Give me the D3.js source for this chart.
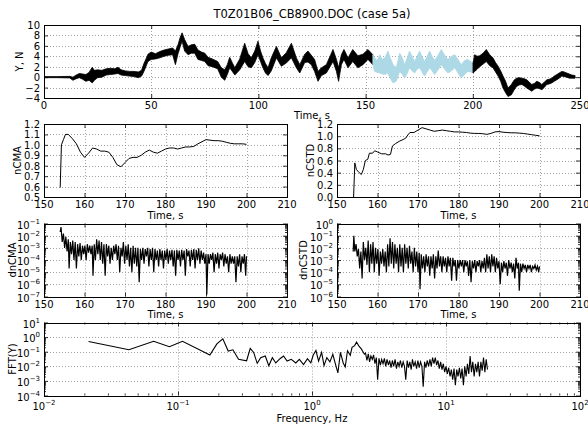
<!DOCTYPE html>
<html><head><meta charset="utf-8">
<script src="https://cdn.jsdelivr.net/npm/d3@7"></script>
<style>
body{margin:0;background:#fff}
text{font-family:"DejaVu Sans","Bitstream Vera Sans",sans-serif;fill:#000}
.grid{stroke:#8a8a8a;stroke-width:0.8;stroke-dasharray:1,2}
.tk line{stroke:#000;stroke-width:0.8}
</style>
</head><body><svg id="c" width="588" height="426" xmlns="http://www.w3.org/2000/svg"></svg>
<script>
// ---------------- DATA ----------------
const title = "T0Z01B06_CB8900.DOC (case 5a)";

// top panel: force Y (N) vs time (s), read as upper / lower envelope of the noisy trace
const yT1  = [0,6,12,13.5,15,16.5,18,19.5,21,22.5,23.5,25,27,29,31,33,34.5,36,38,40,42,44,45.5,46.5,47.7,48.5,50,52,54,56,58,60,61.3,62.5,63.5,64.4,65.6,67.2,68.7,70.3,71.8,73.5,75,76.5,78.5,81,82.7,84.3,85.5,86.6,88,89,91.3,93.6,95.2,96.7,98.3,99.8,101,102.1,103.3,104.5,106,108.4,110.7,113,115.4,117.7,119.3,121.6,123.1,124.7,126.2,127.8,129.4,131.7,134.8,136.4,137.4,138.7,139.9,141.8,144,146.4,148.8,151.1,153.4];
const yHi1 = [0.1,0.1,0.15,0,0.4,0.7,0.6,0.5,0.9,1.9,1.3,1.4,1.3,1.6,1.7,1.6,1.9,1.4,1.2,1.1,1.1,1.0,1.3,2.5,3.6,4.4,4.8,4.5,4.9,5.2,5.4,5.6,5.0,6.2,7.6,8.5,7.2,5.9,6.2,6.3,5.2,4.8,4.6,3.8,3.5,3.0,1.8,1.4,2.4,3.8,2.6,1.8,3.5,6.5,4.5,3.7,5.0,6.9,5.0,3.7,2.6,1.8,3.7,5.9,3.7,4.7,6.5,3.7,2.4,4.4,5.0,4.2,3.4,1.1,1.8,2.4,5.3,3.4,1.8,4.3,5.3,3.7,5.3,4.1,4.4,5.3,4.3];
const yLo1 = [-0.1,-0.1,-0.15,-0.6,-0.3,-0.1,-0.4,-0.8,-0.6,-1.1,-0.6,-0.1,0.0,0.4,0.5,0.6,0.7,0.4,0.3,0.2,0.1,-0.1,0.2,1.0,2.2,3.0,3.4,3.5,3.7,4.0,4.2,4.3,2.4,4.5,5.8,6.9,5.0,4.3,4.6,4.6,3.4,3.2,3.0,2.2,2.0,1.6,0.0,-0.6,0.5,1.8,1.0,0.4,1.4,3.0,2.0,1.8,2.8,4.3,3.0,1.8,0.8,0.3,1.2,3.7,2.1,2.7,3.7,1.8,0.8,2.8,2.9,2.4,1.1,-0.8,0.3,0.8,3.0,1.1,-0.8,2.4,3.4,1.8,3.0,1.8,2.4,3.4,2.4];
// analysed window (light blue)
const yT2  = [153.4,154.2,155.4,156.6,157.8,159,160.4,161.6,162.8,164.3,165.9,167,168.2,169.3,170.5,171.7,172.9,174,175.2,176.3,177.5,178.7,179.9,181,182.2,183.8,185.3,186.9,188.4,190,191.6,193.1,194.6,196.2,197.7,199,200.1];
const yHi2 = [4.3,3.7,3.2,4.3,3.4,3.7,5.0,3.6,2.4,1.8,4.6,3.8,2.4,3.6,5.0,4.0,3.0,4.0,5.0,4.0,3.0,4.0,5.0,4.0,3.2,4.2,5.3,4.2,3.4,4.0,4.3,3.4,2.4,3.2,3.4,3.0,2.7];
const yLo2 = [2.4,1.1,0.9,0.8,0.6,0.5,0.8,-0.3,-1.1,-0.8,1.1,0.6,-0.2,0.6,1.8,1.2,0.8,1.5,1.8,1.0,0.2,1.0,1.8,1.2,0.5,1.4,2.4,1.5,0.8,1.2,1.8,0.8,-0.2,0.5,1.1,1.0,0.8];
const yT3  = [200.1,200.9,202,203.2,204.8,206.3,207.9,209.4,210.6,211.8,213,214.1,215.3,216.4,218,219.2,220.4,221.6,222.9,224,225.2,226.4,227.5,228.7,229.8,231,232.2,233.3,234.5,235.7,236.8,238,239.2,240.3,241.5,242.6,243.8,245,246.2,247.7];
const yHi3 = [2.7,4.3,4.0,4.1,4.6,5.3,4.3,3.7,2.8,2.1,1.2,0.2,-0.8,-2.1,-1.4,-0.6,-0.2,-0.1,-0.2,-0.3,-0.5,-1.0,-1.4,-1.2,-0.8,-1.0,-1.4,-1.0,-0.5,-0.4,-0.2,0.2,0.5,0.8,1.1,1.0,0.8,0.6,0.4,0.3];
const yLo3 = [0.8,1.1,1.5,2.0,2.5,3.0,2.2,1.8,1.0,0.2,-0.8,-2.1,-3.0,-3.7,-3.4,-2.5,-1.8,-1.5,-1.4,-1.7,-2.1,-2.4,-2.7,-2.3,-2.1,-2.2,-2.4,-2.0,-1.4,-1.3,-1.1,-0.8,-0.5,-0.2,0.2,0.1,0.0,-0.2,-0.2,-0.2];

// normalised cumulative mean
const cmaT = [154.0,154.3,154.8,155.3,156,157,158,159,160,161,162,163,164,165,166,167,168,169,170,171,172,173,174,175,176,177,178,179,180,181,182,183,184,185,186,187,188,189,190,191,192,193,194,195,196,197,198,199,200];
const cmaV = [0.59,1.0,1.05,1.10,1.10,1.06,1.01,0.93,0.88,0.92,0.97,0.96,0.94,0.94,0.93,0.88,0.81,0.79,0.83,0.87,0.88,0.88,0.90,0.93,0.95,0.93,0.92,0.94,0.96,0.97,0.97,0.96,0.97,0.98,0.98,0.985,1.01,1.03,1.05,1.045,1.04,1.04,1.035,1.025,1.015,1.01,1.01,1.01,1.005];
// normalised cumulative standard deviation
const cstdT = [154.0,154.1,154.4,154.8,155.5,156,156.5,157,157.6,158,158.8,159.3,160,161,162,162.6,163.2,163.7,164.5,165.5,166.5,167,167.5,168,169,170,171,172,173,174,175,176,177,178,179,180,181,182,183,184,185,186,187,188,189,190,191,192,193,194,195,196,197,198,199,200];
const cstdV = [0.0,0.0,0.56,0.45,0.40,0.37,0.45,0.60,0.62,0.72,0.72,0.76,0.74,0.71,0.71,0.69,0.70,0.84,0.88,0.92,0.95,0.97,1.02,1.06,1.06,1.10,1.14,1.12,1.10,1.08,1.09,1.10,1.09,1.08,1.07,1.07,1.065,1.06,1.05,1.045,1.045,1.04,1.03,1.045,1.07,1.075,1.065,1.06,1.055,1.055,1.05,1.045,1.035,1.025,1.015,1.005];

// relative change of the cumulative mean  [time, value]
const dnCMA = [[154.0,2e-2],[154.2,5e-2],[154.5,3e-3],[154.8,1.5e-2],[155.1,1e-3],[155.4,8e-3],[155.7,5e-4],[156.0,5e-3],[156.2,2e-5],[156.5,3e-3],[156.8,3e-4],[157.1,4e-3],[157.4,1e-4],[157.7,3e-3],[158.0,2e-5],[158.3,2e-3],[158.6,2e-4],[158.9,2.5e-3],[159.2,1e-4],[159.5,1.5e-3],[159.8,3e-4],[160.1,1.5e-3],[160.4,1e-4],[160.7,2e-3],[161.0,4e-4],[161.3,1.5e-3],[161.6,3e-4],[161.9,1.5e-3],[162.1,5e-6],[162.4,2e-3],[162.7,1e-4],[163.0,5e-3],[163.3,3e-4],[163.6,4e-3],[163.9,1e-4],[164.2,3e-3],[164.5,5e-5],[164.8,2e-3],[165.1,5e-6],[165.4,2e-3],[165.7,2e-4],[166.0,1.5e-3],[166.3,5e-5],[166.6,1e-3],[166.9,1e-4],[167.2,1.5e-3],[167.5,3e-4],[167.8,2e-3],[168.1,1e-4],[168.4,1.5e-3],[168.7,1e-5],[169.0,1e-3],[169.3,2e-4],[169.6,3e-3],[169.9,5e-5],[170.2,1.5e-3],[170.5,1e-4],[170.8,2e-3],[171.1,3e-5],[171.4,1e-3],[171.7,1e-5],[172.0,1.5e-3],[172.3,5e-5],[172.6,1e-3],[172.9,3e-5],[173.2,1e-3],[173.5,1.5e-6],[173.8,8e-4],[174.1,1e-4],[174.4,1e-3],[174.7,5e-5],[175.0,8e-4],[175.3,2e-4],[175.6,1e-3],[175.9,3e-5],[176.2,8e-4],[176.5,1e-4],[176.8,1e-3],[177.1,1e-5],[177.4,8e-4],[177.7,1e-4],[178.0,6e-4],[178.3,3e-5],[178.6,8e-4],[178.9,1e-4],[179.2,6e-4],[179.5,2e-5],[179.8,6e-4],[180.1,1e-4],[180.4,8e-4],[180.7,5e-5],[181.0,6e-4],[181.3,1e-4],[181.6,7e-4],[181.9,3e-5],[182.2,6e-4],[182.5,5e-6],[182.8,7e-4],[183.1,1e-4],[183.4,6e-4],[183.7,3e-5],[184.0,7e-4],[184.3,1e-4],[184.6,6e-4],[184.9,5e-6],[185.2,8e-4],[185.5,2e-4],[185.8,6e-4],[186.1,3e-5],[186.4,7e-4],[186.7,1e-4],[187.0,8e-4],[187.3,2e-5],[187.6,7e-4],[187.9,1e-4],[188.2,9e-4],[188.5,5e-5],[188.8,6e-4],[189.1,1e-4],[189.4,4e-4],[189.7,5e-5],[190.0,3e-4],[190.2,1.5e-7],[190.5,3e-4],[190.8,5e-5],[191.1,3e-4],[191.4,1e-4],[191.7,4e-4],[192.0,1e-5],[192.3,3e-4],[192.6,5e-5],[192.9,4e-4],[193.2,2e-5],[193.5,3e-4],[193.8,1e-4],[194.1,4e-4],[194.4,3e-5],[194.7,3e-4],[195.0,5e-5],[195.3,2e-4],[195.6,1e-5],[195.9,3e-4],[196.2,5e-5],[196.5,2e-4],[196.8,5e-5],[197.1,2e-4],[197.4,1.5e-6],[197.7,2e-4],[198.0,3e-5],[198.3,3e-4],[198.6,1e-5],[198.9,2e-4],[199.2,5e-5],[199.5,3e-4],[199.8,5e-6],[200.0,2e-4]];

// relative change of the cumulative standard deviation  [time, value]
const dnCSTD = [[154.0,5e-3],[154.15,1e-1],[154.4,5e-3],[154.7,2e-2],[155.0,2e-3],[155.3,8e-3],[155.6,2e-4],[155.9,5e-3],[156.2,3e-5],[156.5,3e-2],[156.8,1e-3],[157.1,1e-2],[157.4,4e-4],[157.7,4e-2],[158.0,1e-4],[158.3,2e-2],[158.6,5e-4],[158.9,3e-2],[159.2,1e-4],[159.5,1e-2],[159.8,5e-4],[160.1,8e-3],[160.4,5e-5],[160.7,5e-3],[161.0,5e-4],[161.3,8e-3],[161.6,3e-4],[161.9,5e-3],[162.2,1e-4],[162.5,2e-2],[162.8,3e-4],[163.1,6e-2],[163.4,5e-4],[163.7,3e-2],[164.0,2e-4],[164.3,2e-2],[164.6,5e-4],[164.9,1e-2],[165.2,1e-4],[165.5,2e-2],[165.8,3e-4],[166.1,1e-2],[166.4,1e-4],[166.7,2e-2],[167.0,5e-4],[167.3,1e-2],[167.6,2e-4],[167.9,1.5e-2],[168.2,5e-4],[168.5,5e-3],[168.8,1e-4],[169.1,1e-2],[169.4,3e-4],[169.7,5e-3],[170.0,1e-4],[170.3,4e-3],[170.5,4e-6],[170.8,3e-3],[171.1,2e-4],[171.4,2e-3],[171.7,1e-4],[172.0,3e-3],[172.3,3e-4],[172.6,2e-3],[172.9,5e-5],[173.2,2e-3],[173.5,2e-4],[173.8,3e-3],[174.1,3e-5],[174.4,2e-3],[174.7,2e-4],[175.0,6e-3],[175.3,3e-4],[175.6,2e-3],[175.9,1e-4],[176.2,2e-3],[176.5,3e-4],[176.8,1.5e-3],[177.1,1e-4],[177.4,2e-3],[177.7,3e-4],[178.0,1.5e-3],[178.3,2e-5],[178.6,1.5e-3],[178.9,3e-4],[179.2,1e-3],[179.5,2e-5],[179.8,1e-3],[180.1,2e-4],[180.4,1e-3],[180.7,3e-4],[181.0,1e-3],[181.3,1e-4],[181.6,1e-3],[181.9,3e-4],[182.2,8e-4],[182.5,5e-5],[182.8,1e-3],[183.1,1.5e-5],[183.4,8e-4],[183.7,2e-4],[184.0,1e-3],[184.3,1e-4],[184.6,8e-4],[184.9,3e-4],[185.2,1e-3],[185.5,1e-4],[185.8,8e-4],[186.1,2e-4],[186.4,1.5e-3],[186.7,1e-4],[187.0,3e-3],[187.3,2e-4],[187.6,2e-3],[187.9,1e-4],[188.2,3e-3],[188.5,3e-4],[188.8,2e-3],[189.1,1e-4],[189.4,1.5e-3],[189.7,2e-4],[190.0,8e-4],[190.3,1e-5],[190.6,6e-4],[190.9,1e-4],[191.2,8e-4],[191.5,2e-4],[191.8,6e-4],[192.1,5e-5],[192.4,1e-3],[192.7,2e-4],[193.0,6e-4],[193.3,1e-4],[193.6,5e-4],[193.9,3e-5],[194.2,1.5e-3],[194.5,2e-4],[194.8,6e-4],[195.0,3e-6],[195.3,5e-4],[195.6,1e-4],[195.9,5e-4],[196.2,2e-4],[196.5,4e-4],[196.8,1e-4],[197.1,4e-4],[197.4,2e-4],[197.7,4e-4],[198.0,1e-4],[198.3,3e-4],[198.6,2e-4],[198.9,4e-4],[199.2,1.5e-4],[199.5,3e-4],[199.8,1e-4],[200.0,3e-4]];

// amplitude spectrum  [frequency Hz, amplitude]
const fftY = [[0.0215,0.50],[0.043,0.135],[0.0658,0.52],[0.0863,0.22],[0.108,0.52],[0.173,0.060],[0.195,0.34],[0.216,0.76],[0.237,0.11],[0.257,0.135],[0.283,0.030],[0.325,0.024],[0.346,0.17],[0.367,0.089],[0.390,0.016],[0.414,0.039],[0.448,0.051],[0.476,0.011],[0.506,0.039],[0.537,0.017],[0.577,0.033],[0.613,0.051],[0.652,0.023],[0.700,0.030],[0.757,0.017],[0.805,0.030],[0.865,0.013],[0.925,0.033],[0.98,0.017],[1.02,0.057],[1.07,0.12],[1.12,0.023],[1.18,0.089],[1.23,0.011],[1.29,0.039],[1.36,0.020],[1.43,0.067],[1.50,0.013],[1.56,0.0035],[1.63,0.089],[1.71,0.017],[1.77,0.0091],[1.84,0.116],[1.93,0.057],[1.99,0.20],[2.08,0.26],[2.15,0.45],[2.25,0.23],[2.34,0.15],[2.46,0.067],[2.51,0.08],[2.57,0.025],[2.63,0.07],[2.69,0.02],[2.75,0.05],[2.82,0.03],[2.88,0.06],[2.95,0.015],[3.02,0.04],[3.09,0.0012],[3.16,0.035],[3.24,0.012],[3.31,0.03],[3.39,0.015],[3.47,0.035],[3.55,0.01],[3.63,0.03],[3.72,0.012],[3.80,0.025],[3.89,0.008],[3.98,0.025],[4.07,0.01],[4.17,0.03],[4.27,0.007],[4.37,0.02],[4.47,0.01],[4.57,0.025],[4.68,0.008],[4.79,0.02],[4.90,0.01],[5.01,0.0012],[5.13,0.025],[5.25,0.008],[5.37,0.02],[5.50,0.006],[5.62,0.03],[5.75,0.01],[5.89,0.02],[6.03,0.007],[6.17,0.025],[6.31,0.008],[6.46,0.02],[6.61,0.01],[6.76,0.0004],[6.92,0.02],[7.08,0.008],[7.24,0.025],[7.41,0.01],[7.59,0.03],[7.76,0.01],[7.94,0.04],[8.13,0.015],[8.32,0.04],[8.51,0.012],[8.71,0.025],[8.91,0.007],[9.12,0.02],[9.33,0.006],[9.55,0.015],[9.77,0.004],[10.0,0.01],[10.23,0.003],[10.47,0.008],[10.72,0.002],[10.96,0.006],[11.22,0.0012],[11.48,0.007],[11.75,0.0005],[12.02,0.006],[12.30,0.002],[12.59,0.008],[12.88,0.0015],[13.18,0.007],[13.49,0.0005],[13.80,0.01],[14.13,0.002],[14.45,0.015],[14.79,0.003],[15.14,0.05],[15.49,0.004],[15.85,0.02],[16.22,0.002],[16.60,0.015],[16.98,0.004],[17.38,0.02],[17.78,0.002],[18.20,0.02],[18.62,0.005],[19.05,0.04],[19.50,0.004],[19.95,0.03],[20.4,0.006]];

// tick values
const topXTicks = [0,50,100,150,200,250];
const topYTicks = [-4,-2,0,2,4,6,8,10];
const timeTicks = [150,160,170,180,190,200,210];
const cmaYTicks = [0.5,0.6,0.7,0.8,0.9,1.0,1.1,1.2];
const cstdYTicks = [0.0,0.2,0.4,0.6,0.8,1.0,1.2];
const dnCmaYTicks = [1e-7,1e-6,1e-5,1e-4,1e-3,1e-2,1e-1];
const dnCstdYTicks = [1e-6,1e-5,1e-4,1e-3,1e-2,1e-1,1e0];
const fftXTicks = [1e-2,1e-1,1e0,1e1,1e2];
const fftYTicks = [1e-4,1e-3,1e-2,1e-1,1e0,1e1];

// ---------------- DRAWING ----------------
const svg = d3.select("#c");
const PH = 73;
const rows = [25, 124, 223.5, 322.5];
const colFull = [44, 580], colL = [44, 287], colR = [337, 580];
let clipId = 0;

function logMinor(dom){
  const out = [];
  const a = Math.round(Math.log10(dom[0])), b = Math.round(Math.log10(dom[1]));
  for (let e = a; e < b; e++) for (let m = 2; m <= 9; m++) out.push(m * Math.pow(10, e));
  return out;
}
function setLabel(t, v){
  const e = Math.round(Math.log10(v));
  t.append("tspan").text("10");
  t.append("tspan").attr("dy", -5).attr("font-size", 7).text(e < 0 ? "\u2212" + (-e) : String(e));
}

function panel(o){
  const g = svg.append("g");
  const [xa, xb] = o.col, y0 = o.top, y1 = o.top + PH;
  const x = o.x.range([xa, xb]), y = o.y.range([y1, y0]);
  // grid
  g.append("g").selectAll("line").data(o.xTicks.filter(v => x(v) > xa + 1 && x(v) < xb - 1)).join("line")
    .attr("class","grid").attr("x1", d => Math.round(x(d)) + 0.5).attr("x2", d => Math.round(x(d)) + 0.5).attr("y1", y0).attr("y2", y1);
  g.append("g").selectAll("line").data(o.yTicks.filter(v => y(v) > y0 + 1 && y(v) < y1 - 1)).join("line")
    .attr("class","grid").attr("y1", d => Math.round(y(d)) + 0.5).attr("y2", d => Math.round(y(d)) + 0.5).attr("x1", xa).attr("x2", xb);
  // data
  const id = "clip" + (clipId++);
  g.append("clipPath").attr("id", id).append("rect").attr("x", xa).attr("y", y0).attr("width", xb - xa).attr("height", PH);
  o.draw(g.append("g").attr("clip-path", `url(#${id})`), x, y);
  // ticks (inside, all four sides)
  const ax = (axis, tr) => g.append("g").attr("class","tk").attr("transform", tr).call(axis)
      .call(s => { s.select(".domain").remove(); s.selectAll("text").remove(); });
  ax(d3.axisBottom(x).tickValues(o.xTicks).tickSize(-4), `translate(0,${y1})`);
  ax(d3.axisTop(x).tickValues(o.xTicks).tickSize(-4), `translate(0,${y0})`);
  ax(d3.axisLeft(y).tickValues(o.yTicks).tickSize(-4), `translate(${xa},0)`);
  ax(d3.axisRight(y).tickValues(o.yTicks).tickSize(-4), `translate(${xb},0)`);
  if (o.xLog) {
    const mt = logMinor(x.domain());
    ax(d3.axisBottom(x).tickValues(mt).tickSize(-2), `translate(0,${y1})`);
    ax(d3.axisTop(x).tickValues(mt).tickSize(-2), `translate(0,${y0})`);
  }
  if (o.yLog) {
    const mt = logMinor(y.domain());
    ax(d3.axisLeft(y).tickValues(mt).tickSize(-2), `translate(${xa},0)`);
    ax(d3.axisRight(y).tickValues(mt).tickSize(-2), `translate(${xb},0)`);
  }
  // frame
  g.append("rect").attr("x", xa + 0.5).attr("y", Math.round(y0) + 0.5).attr("width", xb - xa).attr("height", PH)
    .attr("fill", "none").attr("stroke", "#000").attr("stroke-width", 1);
  // tick labels
  g.append("g").selectAll("text").data(o.xTicks).join("text")
    .attr("x", d => x(d)).attr("y", y1 + (o.xLog ? 14 : 11)).attr("text-anchor", "middle").attr("font-size", 10)
    .each(function(d){ const t = d3.select(this); if (o.xLog) setLabel(t, d); else t.text(o.xFmt(d)); });
  g.append("g").selectAll("text").data(o.yTicks).join("text")
    .attr("x", xa - 4).attr("y", d => y(d) + (o.yLog ? 5 : 4)).attr("text-anchor", "end").attr("font-size", 10)
    .each(function(d){ const t = d3.select(this); if (o.yLog) setLabel(t, d); else t.text(o.yFmt(d)); });
  // axis titles
  g.append("text").attr("x", (xa + xb) / 2).attr("y", y1 + o.xLabDy).attr("text-anchor", "middle").attr("font-size", 10).text(o.xLabel);
  g.append("text").attr("transform", `translate(${o.yLabX},${(y0 + y1) / 2}) rotate(-90)`).attr("text-anchor", "middle")
    .attr("dy", "0.35em").attr("font-size", 10).text(o.yLabel);
}

const minusFmt = v => (v < 0 ? "\u2212" : "") + Math.abs(v);

// title
svg.append("text").attr("x", 312).attr("y", 18).attr("text-anchor", "middle").attr("font-size", 11.5).text(title);

// top panel
panel({col: colFull, top: rows[0], x: d3.scaleLinear().domain([0, 250]), y: d3.scaleLinear().domain([-4, 10]),
  xTicks: topXTicks, yTicks: topYTicks, xFmt: String, yFmt: minusFmt, xLabel: "Time, s", xLabDy: 21, yLabel: "Y, N", yLabX: 19,
  draw: (g, x, y) => {
    const area = d3.area().x(d => x(d[0])).y0(d => y(d[2])).y1(d => y(d[1]));
    [[yT1, yHi1, yLo1, "#000"], [yT2, yHi2, yLo2, "#add8e6"], [yT3, yHi3, yLo3, "#000"]].forEach(([t, hi, lo, c]) => {
      g.append("path").datum(d3.zip(t, hi, lo)).attr("d", area).attr("fill", c).attr("stroke", c).attr("stroke-width", 0.8).attr("stroke-linejoin", "round");
    });
  }});

const line = (x, y) => d3.line().x(d => x(d[0])).y(d => y(d[1]));

// nCMA
panel({col: colL, top: rows[1], x: d3.scaleLinear().domain([150, 210]), y: d3.scaleLinear().domain([0.5, 1.2]),
  xTicks: timeTicks, yTicks: cmaYTicks, xFmt: String, yFmt: d3.format(".1f"), xLabel: "Time, s", xLabDy: 22, yLabel: "nCMA", yLabX: 17,
  draw: (g, x, y) => g.append("path").datum(d3.zip(cmaT, cmaV)).attr("d", line(x, y)).attr("fill", "none").attr("stroke", "#000").attr("stroke-width", 1)});
// nCSTD
panel({col: colR, top: rows[1], x: d3.scaleLinear().domain([150, 210]), y: d3.scaleLinear().domain([0, 1.2]),
  xTicks: timeTicks, yTicks: cstdYTicks, xFmt: String, yFmt: d3.format(".1f"), xLabel: "Time, s", xLabDy: 22, yLabel: "nCSTD", yLabX: 310,
  draw: (g, x, y) => g.append("path").datum(d3.zip(cstdT, cstdV)).attr("d", line(x, y)).attr("fill", "none").attr("stroke", "#000").attr("stroke-width", 1)});
// dnCMA
panel({col: colL, top: rows[2], x: d3.scaleLinear().domain([150, 210]), y: d3.scaleLog().domain([1e-7, 1e-1]), yLog: true,
  xTicks: timeTicks, yTicks: dnCmaYTicks, xFmt: String, xLabel: "Time, s", xLabDy: 21, yLabel: "dnCMA", yLabX: 12,
  draw: (g, x, y) => g.append("path").datum(dnCMA).attr("d", line(x, y)).attr("fill", "none").attr("stroke", "#000").attr("stroke-width", 1.2)});
// dnCSTD
panel({col: colR, top: rows[2], x: d3.scaleLinear().domain([150, 210]), y: d3.scaleLog().domain([1e-6, 1e0]), yLog: true,
  xTicks: timeTicks, yTicks: dnCstdYTicks, xFmt: String, xLabel: "Time, s", xLabDy: 21, yLabel: "dnCSTD", yLabX: 303,
  draw: (g, x, y) => g.append("path").datum(dnCSTD).attr("d", line(x, y)).attr("fill", "none").attr("stroke", "#000").attr("stroke-width", 1.2)});
// FFT
panel({col: colFull, top: rows[3], x: d3.scaleLog().domain([1e-2, 1e2]), y: d3.scaleLog().domain([1e-4, 1e1]), xLog: true, yLog: true,
  xTicks: fftXTicks, yTicks: fftYTicks, xLabel: "Frequency, Hz", xLabDy: 26, yLabel: "FFT(Y)", yLabX: 12,
  draw: (g, x, y) => g.append("path").datum(fftY).attr("d", line(x, y)).attr("fill", "none").attr("stroke", "#000").attr("stroke-width", 1.1)});
</script>
</body></html>
